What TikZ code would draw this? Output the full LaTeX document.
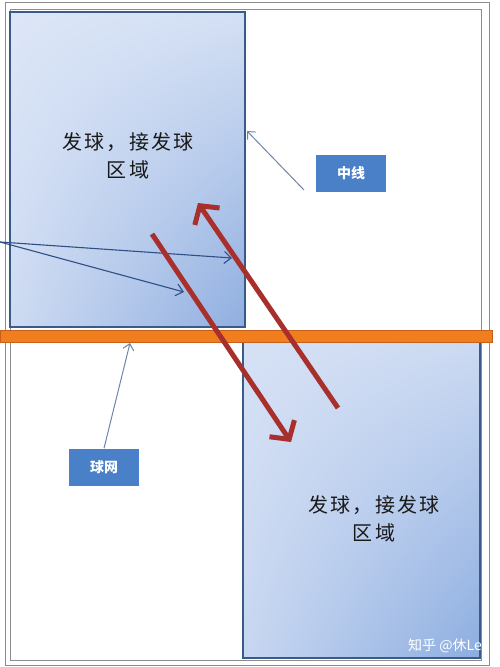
\documentclass[tikz,border=0pt]{standalone}
\usepackage{fontspec}
\newfontfamily\cjk{Noto Sans CJK SC}
\newfontfamily\cjkwide[LetterSpace=12]{Noto Sans CJK SC}
\usetikzlibrary{arrows.meta,shadings}
\definecolor{zoneedge}{HTML}{3A5A8A}
\definecolor{netor}{HTML}{F07D1E}
\definecolor{netedge}{HTML}{C8601A}
\definecolor{lblue}{HTML}{4A80C8}
\definecolor{redarr}{HTML}{A8302C}
\definecolor{thinarr}{HTML}{2F4F86}
\definecolor{grayarr}{HTML}{6F86A8}
\definecolor{aUL}{HTML}{DCE6F7}
\definecolor{aUR}{HTML}{D4E0F4}
\definecolor{aLL}{HTML}{CEDBF2}
\definecolor{aLR}{HTML}{8FAEE0}
\definecolor{bUL}{HTML}{D6E1F5}
\definecolor{bUR}{HTML}{CCDAF2}
\definecolor{bLL}{HTML}{C8D7F1}
\definecolor{bLR}{HTML}{8CADE0}
\tikzset{
  zone/.style={draw=zoneedge, line width=2.8pt},
  zonetext/.style={font=\cjkwide\fontsize{20}{28}\selectfont, text=black!90, align=center},
  tag/.style={fill=lblue, draw=none, minimum width=70pt, minimum height=37pt, text=white, font=\cjk\bfseries\fontsize{14}{16}\selectfont},
  thin arrow/.style={draw=thinarr, line width=1.1pt, -{Straight Barb[length=7pt,width=12pt]}},
  label arrow/.style={draw=grayarr, line width=1pt, -{Straight Barb[length=6pt,width=11pt]}},
  red arrow/.style={draw=redarr, line width=5pt, -{Straight Barb[length=13pt,width=30pt,line width=5pt]}},
  frame/.style={draw=black!45, line width=0.8pt}
}
\begin{document}
\begin{tikzpicture}[x=1pt,y=-1pt]
\useasboundingbox (0,0) rectangle (500,667);
\fill[white] (0,0) rectangle (500,667);
% frames
\draw[frame] (5,2) rectangle (489,665);
\draw[frame] (10,9) rectangle (481,660);
% zones
\shade[upper left=aUL, upper right=aUR, lower left=aLL, lower right=aLR] (10,12) rectangle (245,327);
\draw[zone] (10,12) rectangle (245,327);
\shade[upper left=bUL, upper right=bUR, lower left=bLL, lower right=bLR] (243,342) rectangle (480,658);
\draw[zone] (243,342) rectangle (480,658);
% net
\draw[netedge, fill=netor, line width=0.8pt] (0,330) rectangle (492,342);
% zone texts
\node[zonetext] (z1) at (128,156) {发球，接发球\\区域};
\node[zonetext] (z2) at (374,519) {发球，接发球\\区域};
% tags
\node[tag] (mid) at (351,173.5) {中线};
\node[tag] (net) at (104,467) {球网};
\coordinate (midpt) at (247,131);
\coordinate (netpt) at (130,343);
\draw[label arrow] (304,190) -- (midpt);
\draw[label arrow] (net.north) -- (netpt);
% left arrows
\coordinate (src) at (0,242);
\coordinate (t1) at (232,258);
\coordinate (t2) at (184,292);
\draw[thin arrow] (src) -- (t1);
\draw[thin arrow] (src) -- (t2);
% red arrows
\coordinate (r1s) at (152,234);
\coordinate (r1e) at (291,442);
\coordinate (r2s) at (338,408);
\coordinate (r2e) at (198,203);
\draw[red arrow] (r1s) -- (r1e);
\draw[red arrow] (r2s) -- (r2e);
% watermark
\node[text=white, font=\cjk\fontsize{14}{16}\selectfont, anchor=west, inner sep=0pt] (wm) at (408,646) {知乎 @休Le};
\end{tikzpicture}
\end{document}
